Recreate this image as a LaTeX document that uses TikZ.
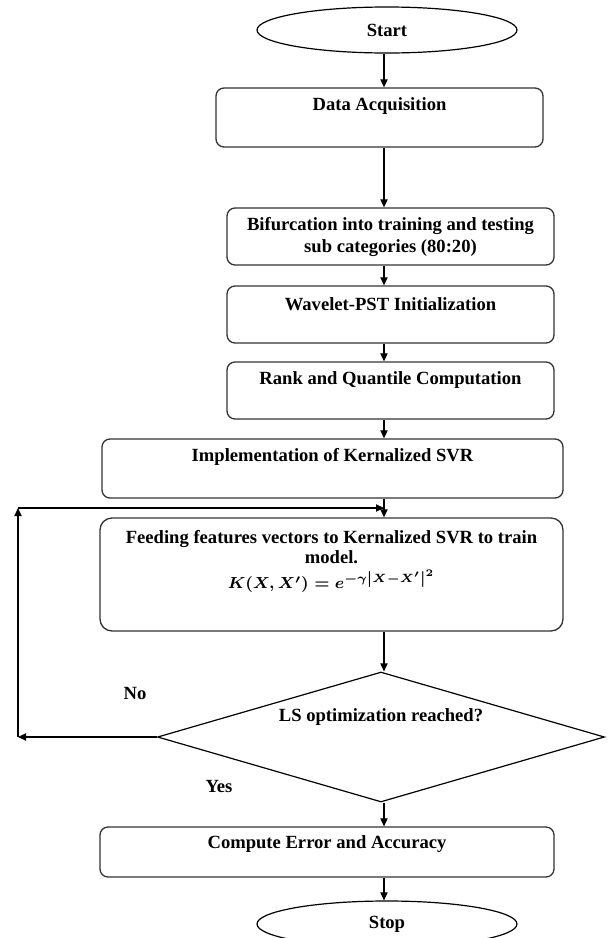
\documentclass[tikz,border=0pt]{standalone}
\usepackage{fontspec}
\setmainfont{Liberation Serif}
\usetikzlibrary{calc}
\usetikzlibrary{shapes}
\usetikzlibrary{arrows.meta}

\tikzset{
	caixa/.style={rectangle, rounded corners=4pt, draw=black!80, line width=0.65pt, inner sep=0pt},
	terminal/.style={ellipse, draw=black, line width=0.6pt, inner sep=0pt},
	decisao/.style={diamond, draw=black, line width=0.6pt, inner sep=0pt},
	texto/.style={align=center, inner sep=0pt},
	seta/.style={draw=black, line width=0.6pt, -{Triangle[length=4pt, width=3.6pt]}}
}

\begin{document}
\begin{tikzpicture}[x=0.5pt, y=-0.5pt, font=\fontsize{9.3}{11}\selectfont\bfseries]

		\def \px{0.5pt};
		\def \ladox{327};
		\def \ladoy{57};

		\useasboundingbox (0,0) rectangle (608,938);

		\coordinate (eixo) at (384, 0);
		\coordinate (margem) at (18, 0);

		\node[terminal, minimum width=260*\px, minimum height=46*\px] (start) at (387, 30) {Start};

		\node[caixa, minimum width=\ladox*\px, minimum height=59*\px] (dataAcq) at (379.5, 117.5) {};
		\node[texto] (dataAcqT) at ($(dataAcq.north)+(0,19)$) {Data Acquisition};

		\node[caixa, minimum width=\ladox*\px, minimum height=\ladoy*\px] (bifurc) at (390.5, 236.5) {};
		\node[texto] (bifurcT) at (bifurc) {Bifurcation into training and testing\\sub categories (80:20)};

		\node[caixa, minimum width=\ladox*\px, minimum height=\ladoy*\px] (wavelet) at (390.5, 314.5) {};
		\node[texto] (waveletT) at ($(wavelet.north)+(0,19)$) {Wavelet-PST Initialization};

		\node[caixa, minimum width=\ladox*\px, minimum height=\ladoy*\px] (rankQ) at (390.5, 390.5) {};
		\node[texto] (rankQT) at ($(rankQ.north)+(0,19)$) {Rank and Quantile Computation};

		\node[caixa, minimum width=461*\px, minimum height=59*\px] (kernSVR) at (332.5, 468.5) {};
		\node[texto] (kernSVRT) at ($(kernSVR.north)+(0,19)$) {Implementation of Kernalized SVR};

		\node[caixa, minimum width=463*\px, minimum height=113*\px, rounded corners=6pt] (feedSVR) at (331.5, 574.5) {};
		\node[texto, anchor=north] (feedSVRT) at ($(feedSVR.north)+(0,13)$) {Feeding features vectors to Kernalized SVR to train\\[-1pt]model.\\[1.5pt]{\fontsize{8.4}{10}\selectfont\boldmath$K(X,X')=e^{-\gamma\left|X-X'\right|^{2}}$}};

		\node[decisao, minimum width=447*\px, minimum height=130*\px] (lsOpt) at (381, 737) {};
		\node[texto] (lsOptT) at ($(lsOpt)+(0,-20)$) {LS optimization reached?};

		\node[caixa, minimum width=454*\px, minimum height=50*\px] (erroAcc) at (327, 852) {};
		\node[texto] (erroAccT) at ($(erroAcc.north)+(0,18)$) {Compute Error and Accuracy};

		\node[terminal, minimum width=260*\px, minimum height=46*\px] (stop) at (387, 924) {Stop};

		\node[texto] (no) at (135, 693) {No};
		\node[texto] (yes) at (219, 786) {Yes};

		\coordinate (voltaA) at (lsOpt.west -| margem);
		\coordinate (voltaB) at ($(kernSVR.south -| margem)!0.5!(feedSVR.north -| margem)$);

		\draw[seta] (start.south -| eixo) -- (dataAcq.north -| eixo);
		\draw[seta] (dataAcq.south -| eixo) -- (bifurc.north -| eixo);
		\draw[seta] (bifurc.south -| eixo) -- (wavelet.north -| eixo);
		\draw[seta] (wavelet.south -| eixo) -- (rankQ.north -| eixo);
		\draw[seta] (rankQ.south -| eixo) -- (kernSVR.north -| eixo);
		\draw[seta] (kernSVR.south -| eixo) -- (feedSVR.north -| eixo);
		\draw[seta] (feedSVR.south -| eixo) -- (lsOpt.north -| eixo);
		\draw[seta] (lsOpt.south -| eixo) -- (erroAcc.north -| eixo);
		\draw[seta] (erroAcc.south -| eixo) -- (stop.north -| eixo);

		\draw[seta] (lsOpt.west) -- (voltaA);
		\draw[seta] (voltaA) -- (voltaB);
		\draw[seta] (voltaB) -- (voltaB -| eixo);

\end{tikzpicture}
\end{document}
